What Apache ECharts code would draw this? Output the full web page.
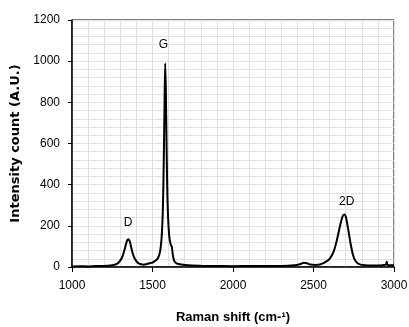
<!DOCTYPE html>
<html>
<head>
<meta charset="utf-8">
<script src="https://cdn.jsdelivr.net/npm/echarts@6/dist/echarts.min.js"></script>
<style>
  html, body { margin: 0; padding: 0; background: #fff; }
  #chart { width: 409px; height: 327px; }
</style>
</head>
<body>
<div id="chart"></div>
<script>
// Raman shift (cm-1)
const shift = [
  1000, 1050, 1100, 1150, 1200, 1240, 1270, 1290, 1310, 1325, 1335, 1343, 1350, 1357, 1365, 1375, 1390, 1410, 1430, 1445,
  1460, 1480, 1500, 1520, 1535, 1548, 1558, 1565, 1570, 1575, 1579, 1583, 1588, 1593, 1600, 1607, 1614, 1620, 1626, 1635,
  1650, 1680, 1720, 1800, 1900, 2000, 2100, 2200, 2300, 2380, 2420, 2440, 2460, 2480, 2510, 2540, 2570, 2600, 2625, 2645,
  2665, 2680, 2692, 2702, 2715, 2730, 2745, 2760, 2780, 2820, 2880, 2930, 2950, 2955, 2960, 3000
];
// intensity count (A.U.)
const intensity = [
  3, 4, 3, 5, 5, 7, 12, 22, 45, 80, 110, 130, 135, 128, 105, 72, 40, 20, 13, 11,
  13, 18, 22, 32, 45, 80, 160, 300, 520, 800, 990, 850, 560, 330, 190, 130, 108, 98, 60, 30,
  18, 12, 8, 6, 5, 4, 5, 5, 5, 8, 15, 21, 18, 12, 10, 12, 22, 40, 75, 130,
  200, 245, 255, 240, 185, 115, 60, 30, 15, 8, 7, 9, 12, 25, 10, 8
];
// peak labels and where they sit
const peakNames = ['D', 'G', '2D'];
const peakSpots = [[1348, 214], [1568, 1078], [2706, 316]];

const chart = echarts.init(document.getElementById('chart'));
const font = 'Liberation Sans';
const gridColor = '#e0e0e0';

chart.setOption({
  animation: false,
  grid: {
    left: 72, right: 15, top: 20, bottom: 60,
    outerBoundsMode: 'none',
    show: true, borderColor: '#000', borderWidth: 1
  },
  xAxis: {
    type: 'value',
    min: 1000, max: 3000, interval: 500,
    name: 'Raman shift (cm-¹)',
    nameLocation: 'middle', nameGap: 44,
    nameTextStyle: { fontFamily: font, fontWeight: 'bold', fontSize: 13, color: '#000' },
    axisLine: { lineStyle: { color: '#000', width: 1.5 } },
    axisTick: { show: true, length: 5, lineStyle: { color: '#000' } },
    axisLabel: { fontFamily: font, fontSize: 12, color: '#000', margin: 13, formatter: v => String(v) },
    splitLine: { show: true, lineStyle: { color: gridColor, width: 1 } },
    minorTick: { show: true, splitNumber: 5, length: 0 },
    minorSplitLine: { show: true, lineStyle: { color: gridColor, width: 1 } }
  },
  yAxis: {
    type: 'value',
    min: 0, max: 1200, interval: 200,
    name: 'Intensity count (A.U.)',
    nameLocation: 'middle', nameGap: 48,
    nameTextStyle: { fontFamily: 'DejaVu Sans', fontWeight: 'bold', fontSize: 13, color: '#000' },
    axisLine: { show: true, lineStyle: { color: '#000', width: 1.5 } },
    axisTick: { show: true, length: 4, lineStyle: { color: '#000' } },
    axisLabel: { fontFamily: font, fontSize: 12, color: '#000', margin: 12, formatter: v => String(v) },
    splitLine: { show: true, lineStyle: { color: gridColor, width: 1 } },
    minorTick: { show: true, splitNumber: 5, length: 0 },
    minorSplitLine: { show: true, lineStyle: { color: gridColor, width: 1 } }
  },
  series: [{
    type: 'line',
    data: shift.map((x, i) => [x, intensity[i]]),
    symbol: 'none',
    smooth: 0.3,
    lineStyle: { color: '#000', width: 2 },
    markPoint: {
      symbol: 'circle', symbolSize: 0,
      label: { show: true, position: 'inside', fontFamily: font, fontSize: 12, color: '#000',
        formatter: p => p.name },
      data: peakNames.map((n, i) => ({ name: n, coord: peakSpots[i] }))
    }
  }]
});
</script>
</body>
</html>
